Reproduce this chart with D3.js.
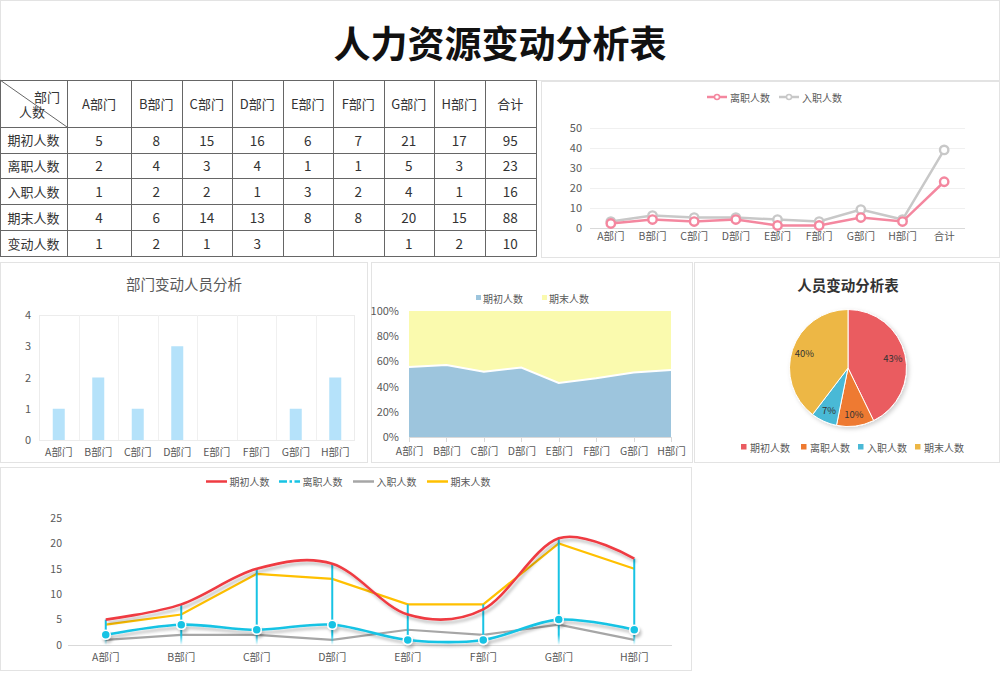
<!DOCTYPE html>
<html><head><meta charset="utf-8">
<script src="https://cdn.jsdelivr.net/npm/d3@7/dist/d3.min.js"></script>
<style>
body{margin:0;background:#fff;}
svg{display:block;font-family:"Noto Sans CJK SC","Noto Sans",sans-serif;}
</style></head><body>
<svg id="c" width="1000" height="673"></svg>
<script>
// ---------- data ----------
const depts = ["A部门","B部门","C部门","D部门","E部门","F部门","G部门","H部门"];
const rowLabels = ["期初人数","离职人数","入职人数","期末人数","变动人数"];
const beginCount = [5,8,15,16,6,7,21,17];
const leaveCount = [2,4,3,4,1,1,5,3];
const joinCount  = [1,2,2,1,3,2,4,1];
const endCount   = [4,6,14,13,8,8,20,15];
const changeCount= [1,2,1,3,null,null,1,2];
const totalLabel = "合计";
const title = "人力资源变动分析表";
const barTitle = "部门变动人员分析";
const pieTitle = "人员变动分析表";
const topTicks = [0,10,20,30,40,50];
const barTicks = [0,1,2,3,4];
const pctTicks = [0,0.2,0.4,0.6,0.8,1];
const bottomTicks = [0,5,10,15,20,25];

const svg = d3.select("#c");
const TXT = "#595959";
const defs = svg.append("defs");
function shadow(id,blur,dx,dy,op){
  const f = defs.append("filter").attr("id",id).attr("filterUnits","userSpaceOnUse")
    .attr("x",-1500).attr("y",-1500).attr("width",4000).attr("height",4000);
  f.append("feGaussianBlur").attr("in","SourceAlpha").attr("stdDeviation",blur);
  f.append("feOffset").attr("dx",dx).attr("dy",dy).attr("result","o");
  f.append("feFlood").attr("flood-color","#000").attr("flood-opacity",op);
  f.append("feComposite").attr("in2","o").attr("operator","in");
  const fm = f.append("feMerge"); fm.append("feMergeNode"); fm.append("feMergeNode").attr("in","SourceGraphic");
}
shadow("sh",1.6,2,3,0.25);
shadow("psh",2,1.5,2,0.18);

function panel(x0,y0,x1,y1){
  svg.append("rect").attr("x",x0+0.5).attr("y",y0+0.5).attr("width",x1-x0-1).attr("height",y1-y0-1)
    .attr("fill","#fff").attr("stroke","#e3e3e3").attr("stroke-width",1);
}
function styleAxis(g,size){
  g.select(".domain").remove();
  g.selectAll(".tick line").remove();
  g.selectAll("text").attr("fill",TXT).attr("font-size",size).attr("font-family","'Noto Sans CJK SC',sans-serif");
}

// ---------- title ----------
panel(0,0,1000,81);
svg.append("text").attr("x",500).attr("y",42).attr("text-anchor","middle").attr("dominant-baseline","central")
  .attr("font-size",37).attr("font-weight","bold").attr("fill","#111").text(title);

// ---------- table ----------
const colEdges = [0,67,131,181.5,232,282.5,333,383.5,434,484.5,536];
const rowEdges = [80,127,152.5,178,204,230,256];
const tb = svg.append("g");
const colHeads = depts.concat([totalLabel]);
const rows = [beginCount,leaveCount,joinCount,endCount,changeCount].map(a=>a.concat([d3.sum(a)]));
colHeads.forEach((h,i)=>{
  tb.append("text").attr("x",(colEdges[i+1]+colEdges[i+2])/2).attr("y",(rowEdges[0]+rowEdges[1])/2)
   .attr("text-anchor","middle").attr("dominant-baseline","central").attr("font-size",13).attr("fill","#333").text(h);
});
rowLabels.forEach((r,j)=>{
  const cy=(rowEdges[j+1]+rowEdges[j+2])/2;
  tb.append("text").attr("x",(colEdges[0]+colEdges[1])/2).attr("y",cy).attr("text-anchor","middle")
   .attr("dominant-baseline","central").attr("font-size",13).attr("fill","#333").text(r);
  rows[j].forEach((v,i)=>{
    if(v==null) return;
    tb.append("text").attr("x",(colEdges[i+1]+colEdges[i+2])/2).attr("y",cy).attr("text-anchor","middle")
     .attr("dominant-baseline","central").attr("font-size",13.5).attr("fill","#333").text(v);
  });
});
tb.append("text").attr("x",47).attr("y",96).attr("text-anchor","middle").attr("dominant-baseline","central").attr("font-size",13).attr("fill","#333").text("部门");
tb.append("text").attr("x",32).attr("y",111).attr("text-anchor","middle").attr("dominant-baseline","central").attr("font-size",13).attr("fill","#333").text("人数");
tb.append("line").attr("x1",0).attr("y1",rowEdges[0]).attr("x2",colEdges[1]).attr("y2",rowEdges[1]).attr("stroke","#666");
colEdges.forEach(x=>tb.append("line").attr("x1",Math.round(x)+0.5).attr("x2",Math.round(x)+0.5)
  .attr("y1",rowEdges[0]).attr("y2",rowEdges[rowEdges.length-1]+0.5).attr("stroke","#666"));
rowEdges.forEach(y=>tb.append("line").attr("y1",Math.round(y)+0.5).attr("y2",Math.round(y)+0.5)
  .attr("x1",0).attr("x2",colEdges[colEdges.length-1]+0.5).attr("stroke","#666"));

// ---------- top-right line chart ----------
panel(541,81,1000,258);
{
  const cats = depts.concat([totalLabel]);
  const leaveAll = leaveCount.concat([d3.sum(leaveCount)]);
  const joinAll = joinCount.concat([d3.sum(joinCount)]);
  const joinStack = leaveAll.map((v,i)=>v+joinAll[i]);
  const x = d3.scaleBand().domain(cats).range([590,965]);
  const y = d3.scaleLinear().domain([0,50]).range([227.5,128]);
  const g = svg.append("g");
  topTicks.forEach(t=>g.append("line").attr("x1",590).attr("x2",965).attr("y1",Math.round(y(t))+0.5).attr("y2",Math.round(y(t))+0.5)
    .attr("stroke",t===0?"#d9d9d9":"#f0f0f0"));
  const ya = g.append("g").attr("transform","translate(582,0)").call(d3.axisLeft(y).tickValues(topTicks).tickSize(0).tickPadding(0));
  styleAxis(ya,11);
  const xa = g.append("g").attr("transform","translate(0,233)").call(d3.axisBottom(x).tickSize(0).tickPadding(0));
  styleAxis(xa,10.5);
  const cx = d=>x(d)+x.bandwidth()/2;
  const line = d3.line().x((d,i)=>cx(cats[i])).y(d=>y(d));
  const series = [{v:joinStack,c:"#c8c8c8"},{v:leaveAll,c:"#f4879f"}];
  series.forEach(s=>{
    g.append("path").attr("d",line(s.v)).attr("fill","none").attr("stroke",s.c).attr("stroke-width",2.5);
    s.v.forEach((v,i)=>g.append("circle").attr("cx",cx(cats[i])).attr("cy",y(v)).attr("r",4.2)
      .attr("fill","#fff").attr("stroke",s.c).attr("stroke-width",2.4));
  });
  const lg=[{t:"离职人数",c:"#f4879f",x:707},{t:"入职人数",c:"#c8c8c8",x:779}];
  lg.forEach(l=>{
    g.append("line").attr("x1",l.x).attr("x2",l.x+20).attr("y1",97).attr("y2",97).attr("stroke",l.c).attr("stroke-width",2.5);
    g.append("circle").attr("cx",l.x+10).attr("cy",97).attr("r",2.5).attr("fill","#fff").attr("stroke",l.c).attr("stroke-width",1.5);
    g.append("text").attr("x",l.x+23).attr("y",97).attr("dominant-baseline","central").attr("font-size",10).attr("fill",TXT).text(l.t);
  });
}

// ---------- bar chart ----------
panel(0,262,368,463);
{
  const g = svg.append("g");
  g.append("text").attr("x",184).attr("y",283.5).attr("text-anchor","middle").attr("dominant-baseline","central")
   .attr("font-size",14.5).attr("fill",TXT).text(barTitle);
  const x = d3.scaleBand().domain(depts).range([39,355]);
  const y = d3.scaleLinear().domain([0,4]).range([440,315]);
  g.append("rect").attr("x",39.5).attr("y",315.5).attr("width",315).attr("height",125).attr("fill","none").attr("stroke","#ececec");
  depts.forEach((d,i)=>{ if(i>0) g.append("line").attr("x1",Math.round(x(d))+0.5).attr("x2",Math.round(x(d))+0.5).attr("y1",315).attr("y2",440).attr("stroke","#f0f0f0"); });
  const ya = g.append("g").attr("transform","translate(31,0)").call(d3.axisLeft(y).tickValues(barTicks).tickFormat(d3.format("d")).tickSize(0).tickPadding(0));
  styleAxis(ya,11);
  const xa = g.append("g").attr("transform","translate(0,449)").call(d3.axisBottom(x).tickSize(0).tickPadding(0));
  styleAxis(xa,10.5);
  depts.forEach((d,i)=>{
    const v = changeCount[i]; if(!v) return;
    g.append("rect").attr("x",x(d)+x.bandwidth()/2-6).attr("width",12).attr("y",y(v)).attr("height",y(0)-y(v)).attr("fill","#b5e2fa");
  });
}

// ---------- 100% area chart ----------
panel(371,262,693,463);
{
  const g = svg.append("g");
  const x = d3.scalePoint().domain(depts).range([409,671]);
  const y = d3.scaleLinear().domain([0,1]).range([437,311]);
  const data = depts.map((d,i)=>({dept:d,begin:beginCount[i],end:endCount[i]}));
  const st = d3.stack().keys(["begin","end"]).offset(d3.stackOffsetExpand)(data);
  const cols = {begin:"#9dc5dd",end:"#fafaae"};
  const area = d3.area().x(d=>x(d.data.dept)).y0(d=>y(d[0])).y1(d=>y(d[1]));
  st.forEach(s=>g.append("path").attr("d",area(s)).attr("fill",cols[s.key]));
  g.append("path").attr("d",d3.line().x(d=>x(d.data.dept)).y(d=>y(d[1]))(st[0])).attr("fill","none").attr("stroke","#fff").attr("stroke-width",2);
  g.append("line").attr("x1",409).attr("x2",671).attr("y1",437.5).attr("y2",437.5).attr("stroke","#d9d9d9");
  depts.forEach(d=>g.append("line").attr("x1",Math.round(x(d))+0.5).attr("x2",Math.round(x(d))+0.5).attr("y1",437).attr("y2",442).attr("stroke","#d9d9d9"));
  const ya = g.append("g").attr("transform","translate(399,0)").call(d3.axisLeft(y).tickValues(pctTicks).tickFormat(d3.format(".0%")).tickSize(0).tickPadding(0));
  styleAxis(ya,11);
  const xa = g.append("g").attr("transform","translate(0,448)").call(d3.axisBottom(x).tickSize(0).tickPadding(0));
  styleAxis(xa,10.5);
  const lg=[{t:"期初人数",c:cols.begin,x:476},{t:"期末人数",c:cols.end,x:542}];
  lg.forEach(l=>{
    g.append("rect").attr("x",l.x).attr("y",295).attr("width",5).attr("height",5).attr("fill",l.c);
    g.append("text").attr("x",l.x+7).attr("y",298).attr("dominant-baseline","central").attr("font-size",10).attr("fill",TXT).text(l.t);
  });
}

// ---------- pie ----------
panel(694,262,1000,463);
{
  const g = svg.append("g");
  g.append("text").attr("x",848).attr("y",284.5).attr("text-anchor","middle").attr("dominant-baseline","central")
   .attr("font-size",14.5).attr("font-weight","bold").attr("fill","#333").text(pieTitle);
  const names = ["期初人数","离职人数","入职人数","期末人数"];
  const vals = [d3.sum(beginCount),d3.sum(leaveCount),d3.sum(joinCount),d3.sum(endCount)];
  const colors = ["#ea5b61","#ee7a30","#4ab9d6","#edb745"];
  const total = d3.sum(vals);
  const pie = d3.pie().sort(null)(vals);
  const arc = d3.arc().innerRadius(0).outerRadius(58.5);
  const lab = d3.arc().innerRadius(46).outerRadius(46);
  const pg = g.append("g").attr("transform","translate(848,368)");
  const sl = pg.append("g").attr("filter","url(#psh)");
  pie.forEach((p,i)=>sl.append("path").attr("d",arc(p)).attr("fill",colors[i]).attr("stroke","#fff").attr("stroke-width",1));
  pie.forEach((p,i)=>{
    const c = lab.centroid(p);
    pg.append("text").attr("x",c[0]).attr("y",c[1]).attr("text-anchor","middle").attr("dominant-baseline","central")
      .attr("font-size",9.5).attr("fill","#333").text(Math.round(vals[i]/total*100)+"%");
  });
  const lx=[741,801,858,915];
  names.forEach((n,i)=>{
    g.append("rect").attr("x",lx[i]).attr("y",444).attr("width",5.5).attr("height",5.5).attr("fill",colors[i]);
    g.append("text").attr("x",lx[i]+9).attr("y",447).attr("dominant-baseline","central").attr("font-size",10).attr("fill",TXT).text(n);
  });
}

// ---------- bottom combo chart ----------
panel(0,467,692,671);
{
  const g = svg.append("g");
  const x = d3.scaleBand().domain(depts).range([68,672]);
  const y = d3.scaleLinear().domain([0,25]).range([645,518]);
  const cx = d=>x(d)+x.bandwidth()/2;
  g.append("line").attr("x1",68).attr("x2",672).attr("y1",645.5).attr("y2",645.5).attr("stroke","#d9d9d9");
  const ya = g.append("g").attr("transform","translate(62,0)").call(d3.axisLeft(y).tickValues(bottomTicks).tickSize(0).tickPadding(0));
  styleAxis(ya,10.5);
  const xa = g.append("g").attr("transform","translate(0,654)").call(d3.axisBottom(x).tickSize(0).tickPadding(0));
  styleAxis(xa,10.5);
  const lin = d3.line().x((d,i)=>cx(depts[i])).y(d=>y(d));
  const smooth = d3.line().x((d,i)=>cx(depts[i])).y(d=>y(d)).curve(d3.curveCatmullRom.alpha(0));
  const RED="#ef3b42", CY="#17c3e4", GR="#a6a6a6", YE="#ffc000";
  g.append("path").attr("d",lin(joinCount)).attr("fill","none").attr("stroke",GR).attr("stroke-width",2.2);
  g.append("path").attr("d",lin(endCount)).attr("fill","none").attr("stroke",YE).attr("stroke-width",2.2);
  const grad = defs.append("linearGradient").attr("id","dg").attr("gradientUnits","userSpaceOnUse")
    .attr("x1",0).attr("x2",0).attr("y1",y(0)).attr("y2",y(2));
  grad.append("stop").attr("offset",0).attr("stop-color",CY).attr("stop-opacity",0);
  grad.append("stop").attr("offset",1).attr("stop-color",CY).attr("stop-opacity",1);
  depts.forEach((d,i)=>{
    const top = Math.max(beginCount[i],leaveCount[i],joinCount[i],endCount[i]);
    g.append("rect").attr("x",cx(d)-1).attr("width",2).attr("y",y(top)).attr("height",y(0)-y(top)).attr("fill","url(#dg)");
  });
  g.append("path").attr("d",smooth(beginCount)).attr("fill","none").attr("stroke",RED).attr("stroke-width",2.6).attr("filter","url(#sh)");
  const cg = g.append("g").attr("filter","url(#sh)");
  cg.append("path").attr("d",smooth(leaveCount)).attr("fill","none").attr("stroke",CY).attr("stroke-width",2.6);
  leaveCount.forEach((v,i)=>cg.append("circle").attr("cx",cx(depts[i])).attr("cy",y(v)).attr("r",4.5)
    .attr("fill",CY).attr("stroke","#fff").attr("stroke-width",1.5));
  const lg=[{t:"期初人数",c:RED,x:206,d:null},{t:"离职人数",c:CY,x:279,d:"8,2.5,2.5,2.5"},{t:"入职人数",c:GR,x:353,d:null},{t:"期末人数",c:YE,x:427,d:null}];
  lg.forEach(l=>{
    const ln=g.append("line").attr("x1",l.x).attr("x2",l.x+21).attr("y1",481.5).attr("y2",481.5).attr("stroke",l.c).attr("stroke-width",2.5);
    if(l.d) ln.attr("stroke-dasharray",l.d);
    g.append("text").attr("x",l.x+23.5).attr("y",481.5).attr("dominant-baseline","central").attr("font-size",10).attr("fill",TXT).text(l.t);
  });
}
</script>
</body></html>
